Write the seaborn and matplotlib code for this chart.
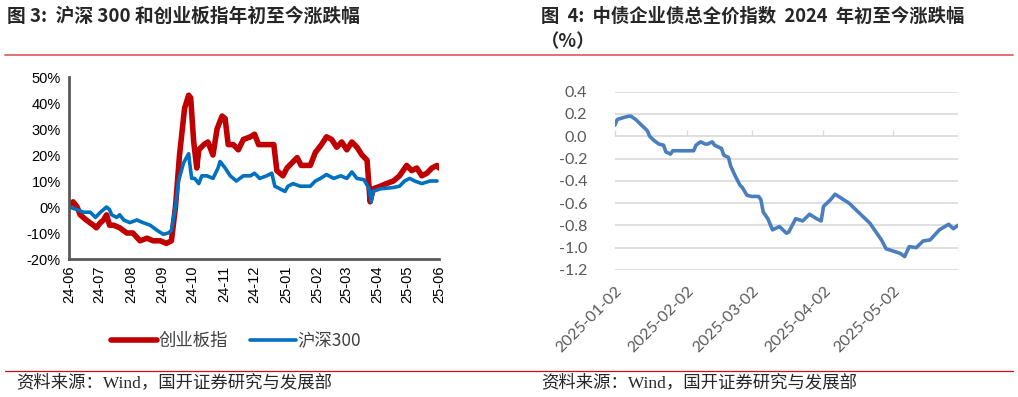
import pandas as pd
import numpy as np
import matplotlib
matplotlib.use('Agg')
import matplotlib.pyplot as plt
import matplotlib.dates as mdates
from matplotlib.lines import Line2D
import seaborn as sns

# Fig 3: 创业板指 / 沪深300 cumulative change (%)
cyb_dates = ['2024-06-01', '2024-06-05', '2024-06-09', '2024-06-12', '2024-06-18', '2024-06-25',
             '2024-06-28', '2024-07-02', '2024-07-05', '2024-07-08', '2024-07-11', '2024-07-15',
             '2024-07-21', '2024-07-28', '2024-08-03', '2024-08-10', '2024-08-17', '2024-08-23',
             '2024-08-30', '2024-09-05', '2024-09-10', '2024-09-14', '2024-09-18', '2024-09-23',
             '2024-09-27', '2024-09-29', '2024-10-02', '2024-10-05', '2024-10-07', '2024-10-12',
             '2024-10-16', '2024-10-21', '2024-10-25', '2024-10-30', '2024-11-02', '2024-11-05',
             '2024-11-10', '2024-11-15', '2024-11-20', '2024-11-27', '2024-12-01', '2024-12-05',
             '2024-12-13', '2024-12-20', '2024-12-23', '2024-12-29', '2025-01-02', '2025-01-07',
             '2025-01-12', '2025-01-16', '2025-01-25', '2025-01-30', '2025-02-05', '2025-02-10',
             '2025-02-15', '2025-02-20', '2025-02-25', '2025-03-02', '2025-03-07', '2025-03-12',
             '2025-03-17', '2025-03-22', '2025-03-25', '2025-03-28', '2025-04-04', '2025-04-10',
             '2025-04-17', '2025-04-23', '2025-04-30', '2025-05-05', '2025-05-10', '2025-05-15',
             '2025-05-20', '2025-05-25', '2025-05-30', '2025-06-01']
cyb_values = [0.5, 2, 0, -3, -5, -7, -8, -6, -5, -3, -7, -7, -8, -10, -10, -13, -12, -13, -13, -14,
              -13, 0, 20, 38, 43, 42, 25, 15, 22, 24, 25, 20, 30, 35, 34, 24, 24, 22, 26, 27, 28,
              24, 24, 24, 14, 12, 15, 17, 19, 16, 16, 21, 24, 27, 26, 23, 25, 22, 25, 23, 20, 18,
              2, 7, 8, 9, 10, 12, 16, 14, 15, 12, 13, 15, 16, 15]

hs300_dates = ['2024-06-01', '2024-06-09', '2024-06-15', '2024-06-22', '2024-06-27', '2024-07-02',
               '2024-07-08', '2024-07-11', '2024-07-13', '2024-07-18', '2024-07-21', '2024-07-25',
               '2024-07-31', '2024-08-07', '2024-08-13', '2024-08-20', '2024-08-27', '2024-09-02',
               '2024-09-07', '2024-09-10', '2024-09-14', '2024-09-17', '2024-09-22', '2024-09-27',
               '2024-09-28', '2024-09-30', '2024-10-03', '2024-10-07', '2024-10-10', '2024-10-15',
               '2024-10-21', '2024-10-26', '2024-10-28', '2024-11-02', '2024-11-07', '2024-11-13',
               '2024-11-20', '2024-11-27', '2024-12-01', '2024-12-06', '2024-12-13', '2024-12-18',
               '2024-12-21', '2024-12-26', '2024-12-31', '2025-01-03', '2025-01-08', '2025-01-15',
               '2025-01-25', '2025-01-30', '2025-02-04', '2025-02-10', '2025-02-17', '2025-02-24',
               '2025-03-02', '2025-03-07', '2025-03-12', '2025-03-19', '2025-03-24', '2025-03-26',
               '2025-03-28', '2025-04-04', '2025-04-17', '2025-04-23', '2025-04-28', '2025-05-03',
               '2025-05-08', '2025-05-15', '2025-05-23', '2025-05-30']
hs300_values = [0, -1, -2, -2, -4, -2, 0, -1, -3, -4, -3, -5, -6, -5, -6, -7, -9, -10.5, -10, -9,
                0, 10, 17, 20.5, 17, 11, 11, 9, 12, 12, 11, 15, 17.5, 15, 12, 10, 12, 12, 13, 11,
                12, 13, 8, 7, 6, 8, 9, 8, 8, 10, 11, 12.5, 11, 12, 11, 13.5, 11, 10.5, 7, 2, 6, 7,
                7.5, 8, 10, 11, 10, 9, 10, 10]

left_ticks = ['2024-06-01', '2024-07-01', '2024-08-01', '2024-09-01', '2024-10-01', '2024-11-01',
              '2024-12-01', '2025-01-01', '2025-02-01', '2025-03-01', '2025-04-01', '2025-05-01',
              '2025-06-01']

# Fig 4: 中债企业债总全价指数 change since start of year
bond_dates = ['2025-01-02', '2025-01-03', '2025-01-06', '2025-01-08', '2025-01-09', '2025-01-11',
              '2025-01-13', '2025-01-15', '2025-01-16', '2025-01-17', '2025-01-19', '2025-01-21',
              '2025-01-23', '2025-01-24', '2025-01-26', '2025-01-27', '2025-01-30', '2025-02-02',
              '2025-02-05', '2025-02-06', '2025-02-08', '2025-02-10', '2025-02-11', '2025-02-13',
              '2025-02-14', '2025-02-17', '2025-02-18', '2025-02-20', '2025-02-21', '2025-02-23',
              '2025-02-25', '2025-02-26', '2025-02-28', '2025-03-02', '2025-03-05', '2025-03-06',
              '2025-03-07', '2025-03-09', '2025-03-11', '2025-03-14', '2025-03-17', '2025-03-18',
              '2025-03-21', '2025-03-24', '2025-03-27', '2025-03-30', '2025-04-01', '2025-04-02',
              '2025-04-05', '2025-04-07', '2025-04-10', '2025-04-13', '2025-04-15', '2025-04-18',
              '2025-04-22', '2025-04-25', '2025-04-27', '2025-04-29', '2025-05-02', '2025-05-05',
              '2025-05-07', '2025-05-09', '2025-05-12', '2025-05-15', '2025-05-18', '2025-05-22',
              '2025-05-26', '2025-05-28', '2025-05-30']
bond_values = [0.10, 0.15, 0.17, 0.18, 0.18, 0.15, 0.11, 0.07, 0.05, 0.00, -0.04, -0.07, -0.08,
               -0.14, -0.16, -0.13, -0.13, -0.13, -0.13, -0.08, -0.05, -0.07, -0.07, -0.05, -0.08,
               -0.11, -0.17, -0.19, -0.27, -0.36, -0.44, -0.46, -0.53, -0.54, -0.54, -0.57, -0.68,
               -0.74, -0.84, -0.81, -0.87, -0.86, -0.74, -0.76, -0.70, -0.74, -0.76, -0.63, -0.57,
               -0.52, -0.56, -0.60, -0.64, -0.70, -0.78, -0.87, -0.93, -1.01, -1.03, -1.05, -1.08,
               -0.99, -1.00, -0.94, -0.93, -0.84, -0.79, -0.83, -0.80]
right_ticks = ['2025-01-02', '2025-02-02', '2025-03-02', '2025-04-02', '2025-05-02']

sns.set_style('white')
plt.rcParams['font.family'] = ['Liberation Sans', 'Noto Sans CJK SC']

cyb = pd.DataFrame({'date': pd.to_datetime(cyb_dates), 'value': cyb_values})
hs = pd.DataFrame({'date': pd.to_datetime(hs300_dates), 'value': hs300_values})
bond = pd.DataFrame({'date': pd.to_datetime(bond_dates), 'value': bond_values})

fig = plt.figure(figsize=(10.18, 3.97), dpi=100)
axl = fig.add_axes([0.0678, 0.3476, 0.3635, 0.4584])
axr = fig.add_axes([0.604, 0.320, 0.337, 0.449])

red = '#c00000'
blue = '#0070c0'
sns.lineplot(data=cyb, x='date', y='value', ax=axl, color=red, linewidth=4.0,
             solid_capstyle='round', solid_joinstyle='round')
sns.lineplot(data=hs, x='date', y='value', ax=axl, color=blue, linewidth=2.6,
             solid_capstyle='round', solid_joinstyle='round')
axl.set_xlim(pd.Timestamp(left_ticks[0]), pd.Timestamp(left_ticks[-1]))
axl.set_ylim(-20, 50)
axl.set_yticks(range(-20, 51, 10))
axl.set_yticklabels([f'{v}%' for v in range(-20, 51, 10)])
axl.set_xticks(pd.to_datetime(left_ticks))
axl.xaxis.set_major_formatter(mdates.DateFormatter('%y-%m'))
for lab in axl.get_xticklabels():
    lab.set_rotation(90)
axl.set_xlabel('')
axl.set_ylabel('')
for s in ['top', 'right']:
    axl.spines[s].set_visible(False)
for s in ['left', 'bottom']:
    axl.spines[s].set_color('#595959')
    axl.spines[s].set_linewidth(2)
axl.tick_params(axis='both', direction='inout', length=6, width=2, color='#595959',
                labelsize=10.5, labelcolor='#000000', pad=2)
axl.tick_params(axis='y', pad=3)

handles = [Line2D([], [], color=red, linewidth=4.0, solid_capstyle='round'),
           Line2D([], [], color=blue, linewidth=2.6, solid_capstyle='round')]
fig.legend(handles, ['创业板指', '沪深300'], loc='center', bbox_to_anchor=(0.232, 0.141),
           ncol=2, frameon=False, handlelength=2.6, handletextpad=0.1, columnspacing=1.3,
           prop={'family': ['Noto Sans CJK SC'], 'size': 12.5})
for t in fig.legends[0].get_texts():
    t.set_color('#404040')

# right chart
sns.lineplot(data=bond, x='date', y='value', ax=axr, color='#4a7ebf', linewidth=2.6,
             solid_capstyle='round', solid_joinstyle='round')
axr.set_xlim(bond['date'].iloc[0], bond['date'].iloc[-1])
axr.set_ylim(-1.2, 0.4)
yt = np.round(np.arange(-1.2, 0.41, 0.2), 1)
axr.set_yticks(yt)
axr.set_yticklabels([f'{v:.1f}' if abs(v) > 1e-9 else '0.0' for v in yt])
axr.grid(axis='y', color='#d9d9d9', linewidth=1.2)
axr.grid(axis='x', visible=False)
axr.set_xticks(pd.to_datetime(right_ticks))
axr.set_xticklabels(right_ticks, rotation=45, ha='right', rotation_mode='anchor')
axr.set_xlabel('')
axr.set_ylabel('')
for s in axr.spines.values():
    s.set_visible(False)
axr.tick_params(axis='x', length=0, pad=10, labelsize=11.5, labelcolor='#595959')
axr.tick_params(axis='y', length=0, pad=20, labelsize=11.5, labelcolor='#595959')
for lab in axr.get_xticklabels() + axr.get_yticklabels():
    lab.set_family(['Lato', 'DejaVu Sans'])

# small tick marks along the zero line
zero_frac = (0 - (-1.2)) / 1.6
sec = axr.secondary_xaxis(zero_frac)
sec.set_xticks(pd.to_datetime(right_ticks))
sec.set_xticklabels([])
sec.tick_params(length=4, width=1, color='#d9d9d9', direction='out')
sec.spines['bottom'].set_visible(False)
sec.spines['top'].set_visible(False)

# titles
title_font = ['Noto Sans CJK SC', 'DejaVu Sans']
fig.text(0.007, 0.958, '图 3:  沪深 300 和创业板指年初至今涨跌幅', ha='left', va='center',
         fontsize=13.5, fontweight='bold', family=title_font)
fig.text(0.531, 0.958, '图  4:  中债企业债总全价指数  2024  年初至今涨跌幅', ha='left',
         va='center', fontsize=13.2, fontweight='bold', family=title_font)
fig.text(0.531, 0.895, '（%）', ha='left', va='center', fontsize=13.2, fontweight='bold',
         family=title_font)

fig.add_artist(Line2D([0.005, 0.995], [1 - 54.5 / 397, 1 - 54.5 / 397], color='#e06666',
                      linewidth=1.3, transform=fig.transFigure))
fig.add_artist(Line2D([0.005, 0.995], [1 - 370.5 / 397, 1 - 370.5 / 397], color='#d01010',
                      linewidth=0.9, transform=fig.transFigure))

foot_font = ['Liberation Serif', 'Noto Sans CJK SC']
fig.text(0.016, 1 - 383 / 397, '资料来源：Wind，国开证券研究与发展部', ha='left', va='center',
         fontsize=12.5, family=foot_font)
fig.text(0.532, 1 - 383 / 397, '资料来源：Wind，国开证券研究与发展部', ha='left', va='center',
         fontsize=12.5, family=foot_font)

fig.savefig('out.png', dpi=100)
